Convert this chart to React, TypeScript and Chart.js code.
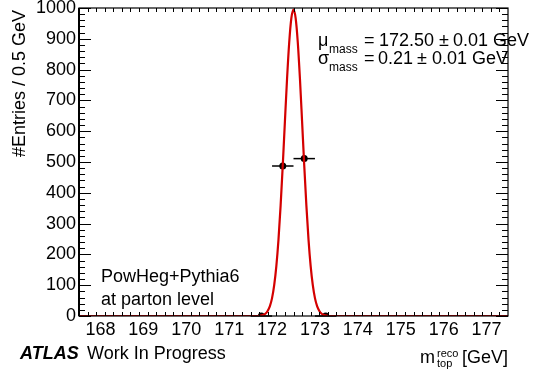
import React, { useEffect, useRef } from 'react';
import { Chart, registerables } from 'chart.js';

Chart.register(...registerables);

// Histogram points (bin centres, entries, half bin width)
const binCenters = [171.75, 172.25, 172.75, 173.25];
const entries = [0, 487, 511, 0];
const binHalfWidth = [0.25, 0.25, 0.25, 0.25];

// Fit curve
const fitX = [167.5, 171.65, 171.7, 171.75, 171.8, 171.85, 171.9, 171.95, 172.0, 172.05, 172.1, 172.15, 172.2, 172.25, 172.3, 172.35, 172.4, 172.45, 172.5, 172.55, 172.6, 172.65, 172.7, 172.75, 172.8, 172.85, 172.9, 172.95, 173.0, 173.05, 173.1, 173.15, 173.2, 173.25, 173.3, 173.35, 177.5];
const fitY = [0, 0, 0.7, 2, 4, 8, 17, 32, 58, 100, 162, 248, 359, 490, 632, 771, 888, 967, 995, 967, 888, 771, 632, 490, 359, 248, 162, 100, 58, 32, 17, 8, 4, 2, 0.7, 0, 0];

// Axis ticks
const xTickValues = [168, 169, 170, 171, 172, 173, 174, 175, 176, 177];
const yTickValues = [0, 100, 200, 300, 400, 500, 600, 700, 800, 900, 1000];
const xMin = 167.5;
const xMax = 177.5;
const yMin = 0;
const yMax = 1000;
const xMinorStep = 0.2;
const yMinorStep = 20;

const FONT = '"Liberation Sans", Arial, Helvetica, sans-serif';

const decorPlugin = {
  id: 'decor',
  beforeDatasetsDraw(chart: any) {
    const ctx = chart.ctx;
    const xs = chart.scales.x;
    const ys = chart.scales.y;
    // error bars
    ctx.save();
    ctx.strokeStyle = '#000';
    ctx.lineWidth = 1.5;
    binCenters.forEach((c, i) => {
      const y = ys.getPixelForValue(entries[i]);
      ctx.beginPath();
      ctx.moveTo(xs.getPixelForValue(c - binHalfWidth[i]), y);
      ctx.lineTo(xs.getPixelForValue(c + binHalfWidth[i]), y);
      ctx.stroke();
    });
    ctx.restore();
  },
  afterDatasetsDraw(chart: any) {
    const ctx = chart.ctx;
    const { left, right, top, bottom } = chart.chartArea;
    const xs = chart.scales.x;
    const ys = chart.scales.y;
    ctx.save();
    ctx.strokeStyle = '#000';
    ctx.lineWidth = 1;
    // ticks
    const nx = Math.round((xMax - xMin) / xMinorStep);
    for (let i = 0; i <= nx; i++) {
      const v = xMin + i * xMinorStep;
      if (v <= xMin + 1e-6 || v >= xMax - 1e-6) continue;
      const major = Math.abs(v - Math.round(v)) < 1e-6;
      const len = major ? 8 : 4;
      const px = Math.round(xs.getPixelForValue(v)) + 0.5;
      ctx.beginPath();
      ctx.moveTo(px, bottom);
      ctx.lineTo(px, bottom - len);
      ctx.moveTo(px, top);
      ctx.lineTo(px, top + len);
      ctx.stroke();
    }
    const ny = Math.round((yMax - yMin) / yMinorStep);
    for (let i = 0; i <= ny; i++) {
      const v = yMin + i * yMinorStep;
      const major = v % 100 === 0;
      const len = major ? 12 : 6;
      const py = Math.round(ys.getPixelForValue(v)) + 0.5;
      ctx.beginPath();
      ctx.moveTo(left, py);
      ctx.lineTo(left + len, py);
      ctx.moveTo(right, py);
      ctx.lineTo(right - len, py);
      ctx.stroke();
    }
    // frame
    ctx.lineWidth = 1.2;
    ctx.strokeRect(left, top, right - left, bottom - top);
    ctx.lineWidth = 2;
    ctx.beginPath();
    ctx.moveTo(left, top);
    ctx.lineTo(left, bottom);
    ctx.stroke();

    // texts
    ctx.fillStyle = '#000';
    ctx.textBaseline = 'alphabetic';
    ctx.textAlign = 'left';
    // y title
    ctx.save();
    ctx.font = `18px ${FONT}`;
    ctx.translate(25, 10);
    ctx.rotate(-Math.PI / 2);
    ctx.textAlign = 'right';
    ctx.fillText('#Entries / 0.5 GeV', 0, 0);
    ctx.restore();

    ctx.font = `18px ${FONT}`;
    ctx.fillText('PowHeg+Pythia6', 101, 282);
    ctx.fillText('at parton level', 101, 305);

    // ATLAS label
    ctx.font = `italic bold 18px ${FONT}`;
    ctx.fillText('ATLAS', 20, 359);
    ctx.font = `18px ${FONT}`;
    ctx.fillText('Work In Progress', 87, 359);

    // fit results
    ctx.font = `18px ${FONT}`;
    ctx.fillText('\u03bc', 318, 45.5);
    ctx.fillText('=', 364, 45.5);
    ctx.fillText('172.50', 379, 45.5);
    ctx.fillText('\u00b1', 439, 45.5);
    ctx.fillText('0.01', 453, 45.5);
    ctx.fillText('GeV', 493, 45.5);
    ctx.fillText('\u03c3', 318, 64);
    ctx.fillText('=', 364, 64);
    ctx.fillText('0.21', 378, 64);
    ctx.fillText('\u00b1', 417, 64);
    ctx.fillText('0.01', 432, 64);
    ctx.fillText('GeV', 472, 64);
    ctx.font = `12px ${FONT}`;
    ctx.fillText('mass', 329, 53);
    ctx.fillText('mass', 329, 71);

    // x title
    ctx.font = `18px ${FONT}`;
    ctx.fillText('m', 420, 363);
    ctx.fillText('[GeV]', 462, 363);
    ctx.font = `11px ${FONT}`;
    ctx.fillText('reco', 437, 357);
    ctx.fillText('top', 437, 367);
    ctx.restore();
  },
};

export default function App() {
  const ref = useRef<HTMLCanvasElement | null>(null);
  useEffect(() => {
    if (!ref.current) return;
    Chart.defaults.font.family = FONT;
    Chart.defaults.font.size = 18;
    Chart.defaults.color = '#000';
    const chart = new Chart(ref.current, {
      type: 'line',
      data: {
        datasets: [
          {
            label: 'fit',
            data: fitX.map((x, i) => ({ x, y: fitY[i] })),
            borderColor: '#d40000',
            borderWidth: 2.2,
            pointRadius: 0,
            fill: false,
            cubicInterpolationMode: 'monotone',
          } as any,
          {
            label: 'data',
            data: binCenters.map((x, i) => ({ x, y: entries[i] })),
            showLine: false,
            pointRadius: 3.5,
            pointBackgroundColor: '#000',
            pointBorderColor: '#000',
            pointBorderWidth: 0,
          } as any,
        ],
      },
      options: {
        responsive: false,
        animation: false,
        events: [],
        layout: { padding: { left: 0, right: 28, top: 8, bottom: 0 } },
        plugins: { legend: { display: false }, tooltip: { enabled: false }, title: { display: false } },
        scales: {
          x: {
            type: 'linear',
            min: xMin,
            max: xMax,
            grid: { display: false, drawTicks: false },
            border: { display: false },
            ticks: {
              padding: 3,
              maxRotation: 0,
              autoSkip: false,
              font: { size: 18 },
              color: '#000',
              callback: (v: any) => String(v),
            },
            afterBuildTicks: (s: any) => {
              s.ticks = xTickValues.map((v) => ({ value: v }));
            },
            afterFit: (s: any) => {
              s.height = 60;
              s.paddingLeft = 0;
              s.paddingRight = 0;
            },
          },
          y: {
            type: 'linear',
            min: yMin,
            max: yMax,
            grid: { display: false, drawTicks: false },
            border: { display: false },
            ticks: { padding: 3, font: { size: 18 }, color: '#000', callback: (v: any) => String(v) },
            afterBuildTicks: (s: any) => {
              s.ticks = yTickValues.map((v) => ({ value: v }));
            },
            afterFit: (s: any) => {
              s.width = 79;
              s.paddingTop = 0;
              s.paddingBottom = 0;
            },
          },
        },
      },
      plugins: [decorPlugin],
    });
    return () => chart.destroy();
  }, []);
  return (
    <div style={{ position: 'fixed', left: 0, top: 0, width: 536, height: 376, background: '#fff' }}>
      <canvas ref={ref} width={536} height={376} style={{ width: 536, height: 376 }} />
    </div>
  );
}
